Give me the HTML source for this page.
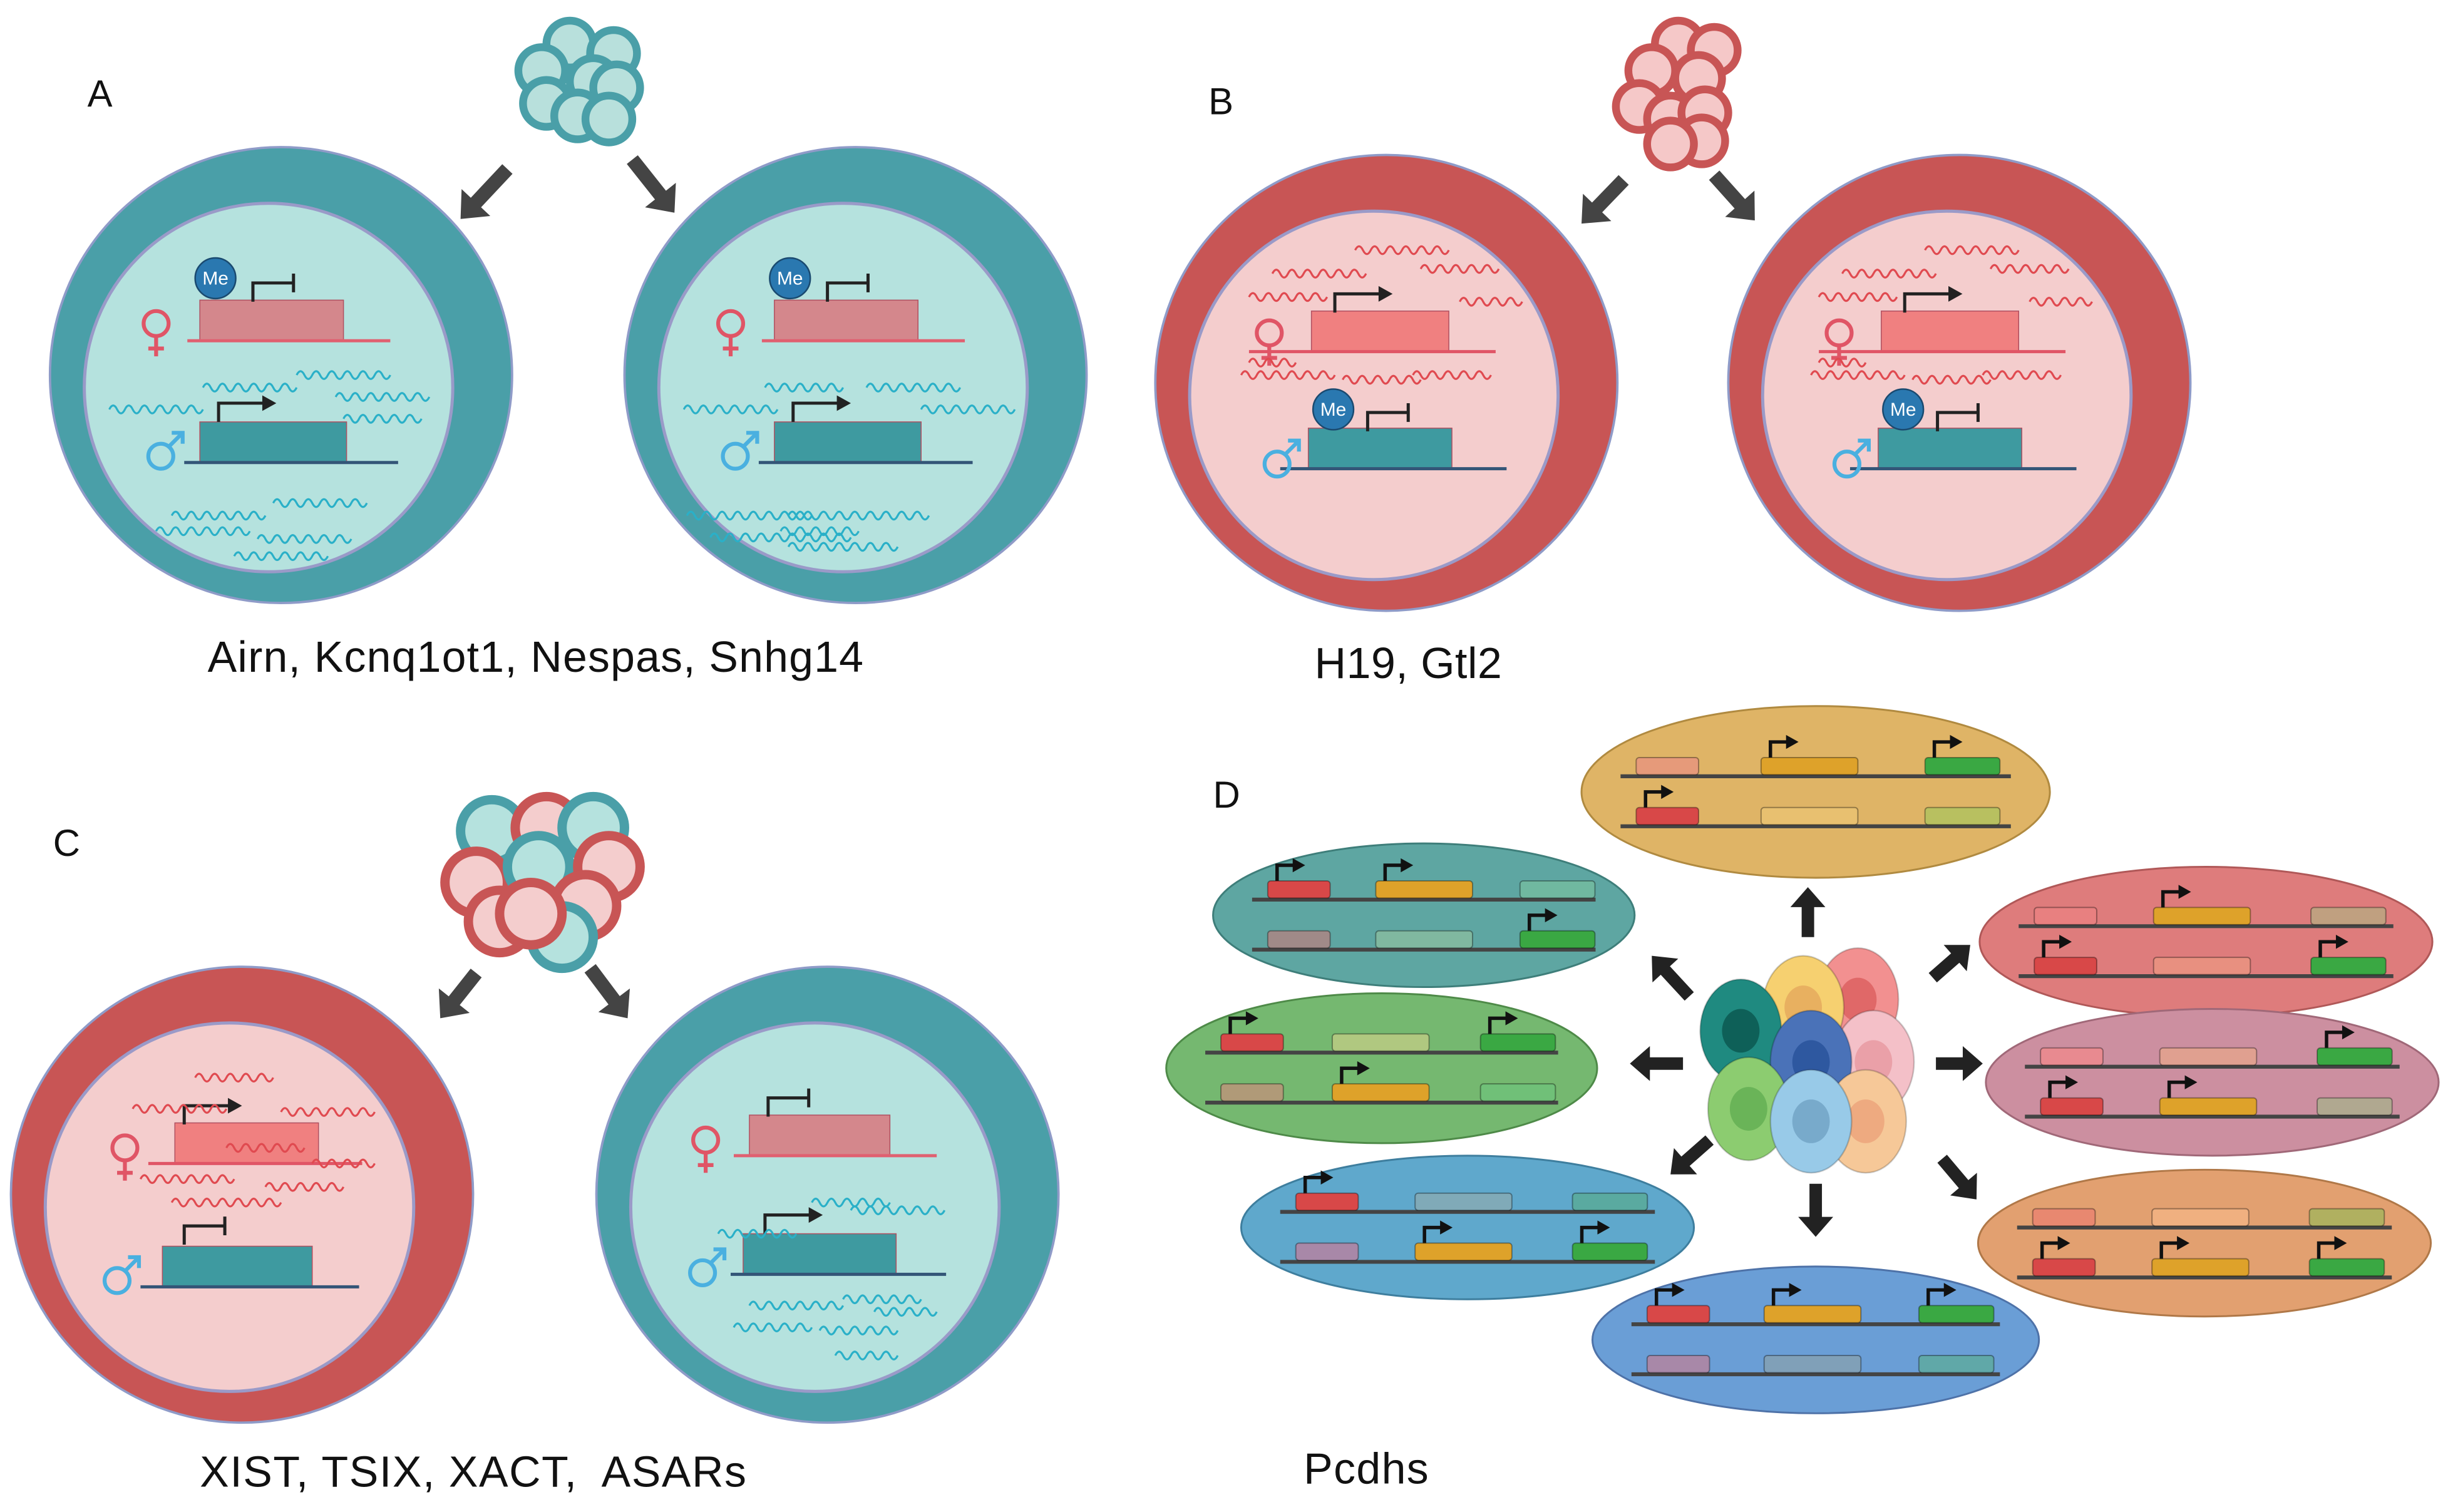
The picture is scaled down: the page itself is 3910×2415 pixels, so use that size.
<!DOCTYPE html>
<html><head><meta charset="utf-8"><style>
html,body{margin:0;padding:0;background:#fff}
svg{display:block}
text{font-family:"Liberation Sans",sans-serif;fill:#111}
</style></head><body>
<svg id="s" width="3910" height="2415" viewBox="0 0 1568 968" xmlns="http://www.w3.org/2000/svg">
<rect width="1568" height="968" fill="#fff"/>
<g id="g"></g>
<text x="56" y="68" font-size="24">A</text>
<text x="774" y="73" font-size="24">B</text>
<text x="34" y="548" font-size="24">C</text>
<text x="777" y="517" font-size="24">D</text>
<text x="343" y="430" font-size="28" text-anchor="middle" textLength="420">Airn, Kcnq1ot1, Nespas, Snhg14</text>
<text x="902" y="434" font-size="28" text-anchor="middle" textLength="120">H19, Gtl2</text>
<text x="303" y="952" font-size="28" text-anchor="middle" xml:space="preserve" textLength="350">XIST, TSIX, XACT,  ASARs</text>
<text x="875" y="950" font-size="28" text-anchor="middle" textLength="80">Pcdhs</text>
<text x="138" y="182" font-size="12" text-anchor="middle" style="fill:#fff">Me</text>
<text x="506" y="182" font-size="12" text-anchor="middle" style="fill:#fff">Me</text>
<text x="854" y="266" font-size="12" text-anchor="middle" style="fill:#fff">Me</text>
<text x="1219" y="266" font-size="12" text-anchor="middle" style="fill:#fff">Me</text>
</svg>
<script>
const g=document.getElementById('g');let h='';
const TE='#4a9fa8',TI='#b5e2de',RE='#c85555',RI='#f4cdcd';
function cell(cx,cy,o,i){h+=`<ellipse cx="${cx}" cy="${cy}" rx="148" ry="146" fill="${o}" stroke="#8f9bc8" stroke-width="1.5"/><ellipse cx="${cx-8}" cy="${cy+8}" rx="118" ry="118" fill="${i}" stroke="#9a9ac8" stroke-width="2"/>`;}
function wave(x,y,n,c){let d=`M${x} ${y}`;for(let k=0;k<n;k++)d+=` q2.5 -5 5 0 q2.5 5 5 0`;h+=`<path d="${d}" fill="none" stroke="${c}" stroke-width="1.3"/>`;}
function fem(x,y){h+=`<circle cx="${x}" cy="${y}" r="8" fill="none" stroke="#e05566" stroke-width="2.5"/><path d="M${x} ${y+8}v13M${x-5} ${y+16}h10" stroke="#e05566" stroke-width="2.5"/>`;}
function mal(x,y){h+=`<circle cx="${x}" cy="${y}" r="8" fill="none" stroke="#4ab0e0" stroke-width="2.5"/><path d="M${x+5} ${y-6}l9 -9M${x+7} ${y-15}h7v7" stroke="#4ab0e0" stroke-width="2.5" fill="none"/>`;}
function act(x,y){h+=`<path d="M${x} ${y}v-12h30" stroke="#222" stroke-width="2" fill="none"/><path d="M${x+28} ${y-17}l9 5l-9 5z" fill="#222"/>`;}
function rep(x,y){h+=`<path d="M${x} ${y}v-12h26M${x+26} ${y-18}v12" stroke="#222" stroke-width="2" fill="none"/>`;}
function me(x,y){h+=`<circle cx="${x}" cy="${y}" r="13" fill="#2a78b0" stroke="#1a4a70"/>`;}
function gene(x,y,w,fill,line,lx0,lx1){h+=`<rect x="${x}" y="${y-26}" width="${w}" height="26" fill="${fill}" stroke="#b05060" stroke-width="0.6"/><path d="M${lx0} ${y}H${lx1}" stroke="${line}" stroke-width="2"/>`;}
function arrow(x1,y1,x2,y2,w,c){const a=Math.atan2(y2-y1,x2-x1),L=Math.hypot(x2-x1,y2-y1);const hl=w*1.6,hw=w*1.4;
h+=`<g transform="translate(${x1} ${y1}) rotate(${a*180/Math.PI})"><path d="M0 ${-w/2}H${L-hl}V${-hw}L${L} 0L${L-hl} ${hw}V${w/2}H0z" fill="${c}"/></g>`;}
cell(180,240,TE,TI);cell(548,240,TE,TI);
[0,368].forEach(dx=>{
 gene(128+dx,218,92,'#d4878c','#e06070',120+dx,250+dx);me(138+dx,178);rep(162+dx,193);fem(100+dx,207);
 gene(128+dx,296,94,'#3e9aa0','#335577',118+dx,255+dx);act(140+dx,270);mal(103+dx,292);
});
[[70,262,6],[130,248,6],[190,240,6],[215,254,6],[220,268,5],[110,330,6],[175,322,6],[100,340,6],[165,345,6],[150,356,6]].forEach(a=>wave(a[0],a[1],a[2],'#2ab0c8'));
[[438,262,6],[490,248,5],[555,248,6],[590,262,6],[440,330,8],[505,330,9],[455,344,9],[505,350,7],[500,340,5]].forEach(a=>wave(a[0],a[1],a[2],'#2ab0c8'));
[[365,28],[393,34],[347,45],[380,52],[395,56],[350,66],[370,74],[390,76]].forEach(p=>h+=`<circle cx="${p[0]}" cy="${p[1]}" r="15" fill="#b8e0dc" stroke="${TE}" stroke-width="5"/>`);
arrow(325,108,295,140,9,'#444');arrow(405,102,432,136,9,'#444');
cell(888,245,RE,RI);cell(1255,245,RE,RI);
[0,365].forEach(dx=>{
 gene(840+dx,225,88,'#f08080','#e05566',800+dx,958+dx);act(855+dx,200);fem(813+dx,213);
 gene(838+dx,300,92,'#3e9aa0','#335577',820+dx,965+dx);me(854+dx,262);rep(876+dx,276);mal(818+dx,297);
 [[815,175,6],[868,160,6],[910,172,5],[800,190,5],[935,193,4],[795,240,6],[860,243,5],[905,240,5],[800,232,3]].forEach(a=>wave(a[0]+dx,a[1],a[2],'#e04a50'));
});
arrow(1040,115,1013,143,9,'#444');arrow(1098,112,1124,141,9,'#444');
[[1075,28],[1098,32],[1058,45],[1088,50],[1050,68],[1070,76],[1092,72],[1090,90],[1070,92]].forEach(p=>h+=`<circle cx="${p[0]}" cy="${p[1]}" r="15" fill="#f5c8c8" stroke="${RE}" stroke-width="5"/>`);
cell(155,765,RE,RI);cell(530,765,TE,TI);
gene(112,745,92,'#f08080','#e05566',95,232);act(118,720);fem(80,735);
gene(104,824,96,'#3e9aa0','#335577',90,230);rep(118,797);mal(75,820);
[[85,710,6],[125,690,5],[180,712,6],[145,735,5],[90,755,6],[110,770,7],[170,760,5],[200,745,4]].forEach(a=>wave(a[0],a[1],a[2],'#e04a50'));
gene(480,740,90,'#d4878c','#e06070',470,600);rep(492,715);fem(452,730);
gene(476,816,98,'#3e9aa0','#335577',468,606);act(490,790);mal(450,815);
[[460,790,5],[520,770,5],[545,775,6],[480,836,6],[540,832,5],[470,850,5],[525,852,5],[535,868,4],[560,840,4]].forEach(a=>wave(a[0],a[1],a[2],'#2ab0c8'));
[[315,532,TE,TI],[350,530,RE,RI],[380,530,TE,TI],[305,565,RE,RI],[345,555,TE,TI],[390,555,RE,RI],[320,590,RE,RI],[375,580,RE,RI],[360,600,TE,TI],[340,585,RE,RI]].forEach(p=>h+=`<circle cx="${p[0]}" cy="${p[1]}" r="20" fill="${p[3]}" stroke="${p[2]}" stroke-width="6"/>`);
arrow(305,623,282,652,9,'#444');arrow(378,620,402,652,9,'#444');
const R='#d84848',Y='#dea22a',G='#3aa843';
function ell(cx,cy,rx,ry,fill,st,top,bot,act1,act2){
 h+=`<ellipse cx="${cx}" cy="${cy}" rx="${rx}" ry="${ry}" fill="${fill}" stroke="${st}" stroke-width="1.2"/>`;
 const x0=cx-rx+25, L=rx*2-50;
 [[cy-10,top,act1],[cy+22,bot,act2]].forEach(([y,cols,ac])=>{
  h+=`<path d="M${x0} ${y}H${x0+L}" stroke="#444" stroke-width="2.5"/>`;
  const xs=[x0+10,x0+L*0.36,x0+L*0.78],ws=[40,62,48];
  cols.forEach((c,k)=>{h+=`<rect x="${xs[k]}" y="${y-12}" width="${ws[k]}" height="11" rx="2" fill="${c}" stroke="rgba(0,0,0,.35)" stroke-width="0.8"/>`;
   if(ac[k]){h+=`<path d="M${xs[k]+6} ${y-12}v-10h12" stroke="#111" stroke-width="2.2" fill="none"/><path d="M${xs[k]+16} ${y-26.5}l8 4.5l-8 4.5z" fill="#111"/>`;}});
 });
}
ell(1163,507,150,55,'#dfb466','#b08a40',['#e69a7a',Y,G],[R,'#e8c070','#b8c060'],[0,1,1],[1,0,0]);
ell(912,586,135,46,'#5ea6a2','#3e7e7a',[R,Y,'#70b8a0'],['#a08a88','#80b8a0',G],[1,1,0],[0,0,1]);
ell(885,684,138,48,'#75b870','#4e8a48',[R,'#b0c880',G],['#b09a78',Y,'#70c078'],[1,0,1],[0,1,0]);
ell(940,786,145,46,'#5fa8cc','#3e7e9e',[R,'#80aab8','#5aaaa0'],['#a888a8',Y,G],[1,0,0],[0,1,1]);
ell(1163,858,143,47,'#6a9ed6','#4e72a8',[R,Y,G],['#a888a8','#80a0b8','#60a8a8'],[1,1,1],[0,0,0]);
ell(1413,603,145,48,'#de7c7c','#b05858',['#e88080',Y,'#c0a080'],[R,'#e89080',G],[0,1,0],[1,0,1]);
ell(1417,693,145,47,'#cc8fa0','#a06878',['#e88a90','#e0a090',G],[R,Y,'#b0a890'],[0,0,1],[1,1,0]);
ell(1412,796,145,47,'#e2a070','#b07848',['#e88870','#f0b080','#b0b060'],[R,Y,G],[0,0,0],[1,1,1]);
[[1158,600,1158,568],[1082,638,1058,612],[1078,681,1044,681],[1095,730,1070,752],[1163,758,1163,792],[1238,626,1262,605],[1240,681,1270,681],[1244,742,1266,768]].forEach(a=>arrow(a[0],a[1],a[2],a[3],8,'#222'));
[[1190,640,'#f29090','#e06868'],[1155,645,'#f6d070','#e8b060'],[1115,660,'#1f8a80','#0e6058'],[1200,680,'#f4c0c8','#eaa0a8'],[1160,680,'#4a72b8','#2e58a0'],[1120,710,'#8ccc70','#6ab458'],[1195,718,'#f6c898','#eeaa80'],[1160,718,'#98cae8','#78aacb']].forEach(c=>h+=`<ellipse cx="${c[0]}" cy="${c[1]}" rx="26" ry="33" fill="${c[2]}" stroke="rgba(0,0,0,.2)"/><ellipse cx="${c[0]}" cy="${c[1]}" rx="12" ry="14" fill="${c[3]}"/>`);
g.innerHTML=h;
</script>
</body></html>
